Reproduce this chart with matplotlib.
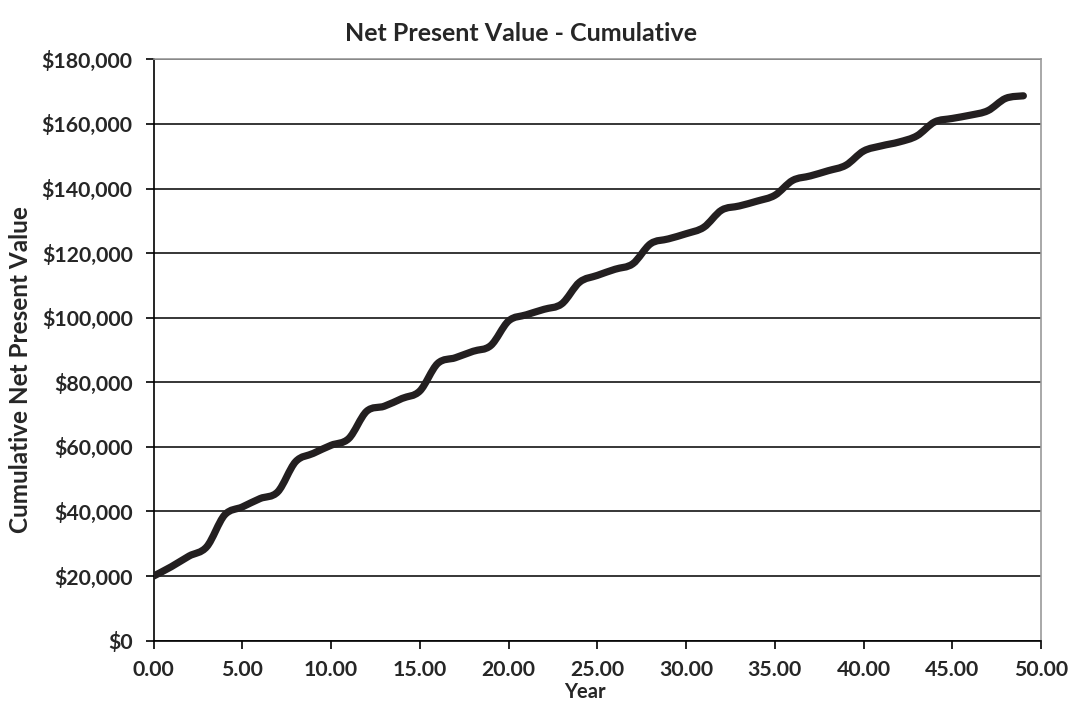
import matplotlib.pyplot as plt
import numpy as np
from matplotlib.path import Path
from matplotlib.patches import PathPatch
from matplotlib.ticker import FuncFormatter, MultipleLocator

# Data
years = list(range(0, 50))
cumulative_npv = [
    20000, 22900, 26200, 29100, 38900, 41400, 44000, 46100, 55400, 58000,
    60500, 62600, 71000, 72600, 75000, 77300, 85800, 87600, 89600, 91400,
    99000, 100900, 102600, 104300, 111000, 113100, 115000, 116700, 122900, 124400,
    126000, 128000, 133300, 134600, 136100, 137900, 142500, 143900, 145500, 147200,
    151600, 153200, 154400, 156300, 160600, 161700, 162700, 164100, 167900, 168700,
]

plt.rcParams['font.family'] = ['Lato', 'DejaVu Sans']
text_color = '#262626'

fig = plt.figure(figsize=(10.7, 7.07), dpi=100)
ax = fig.add_axes([0.1435, 0.0938, 0.8295, 0.8223])

# Excel-style smoothed line: cubic Bezier segments through every point
x = np.array(years, dtype=float)
y = np.array(cumulative_npv, dtype=float)
xp = np.concatenate([[x[0]], x, [x[-1]]])
yp = np.concatenate([[y[0]], y, [y[-1]]])
verts = [(x[0], y[0])]
codes = [Path.MOVETO]
for i in range(len(x) - 1):
    c1 = (x[i] + (xp[i + 2] - xp[i]) / 6, y[i] + (yp[i + 2] - yp[i]) / 6)
    c2 = (x[i + 1] - (xp[i + 3] - xp[i + 1]) / 6, y[i + 1] - (yp[i + 3] - yp[i + 1]) / 6)
    verts += [c1, c2, (x[i + 1], y[i + 1])]
    codes += [Path.CURVE4] * 3
ax.add_patch(PathPatch(Path(verts, codes), facecolor='none', edgecolor='#231f20',
                       linewidth=5.2, capstyle='round', joinstyle='round', zorder=3))

ax.set_xlim(0, 50)
ax.set_ylim(0, 180000)
ax.xaxis.set_major_locator(MultipleLocator(5))
ax.yaxis.set_major_locator(MultipleLocator(20000))
ax.xaxis.set_major_formatter(FuncFormatter(lambda v, p: f"{v:.2f}"))
ax.yaxis.set_major_formatter(FuncFormatter(lambda v, p: f"${v:,.0f}"))

ax.grid(True, axis='y', color='black', linewidth=1.1, zorder=1)
ax.set_axisbelow(True)
for side in ['left', 'bottom']:
    ax.spines[side].set_color('black')
    ax.spines[side].set_linewidth(1.2)
for side in ['top', 'right']:
    ax.spines[side].set_color('#999999')
    ax.spines[side].set_linewidth(1.2)

ax.tick_params(axis='both', direction='out', length=6, width=1.2, color='black',
               labelsize=15.3, labelcolor=text_color)
ax.tick_params(axis='y', pad=9)
ax.tick_params(axis='x', pad=8)
for lbl in ax.get_xticklabels() + ax.get_yticklabels():
    lbl.set_fontweight('bold')

fig.text(0.487, 0.953, 'Net Present Value - Cumulative', ha='center', va='center',
         fontsize=18, fontweight='bold', color=text_color)
fig.text(0.547, 0.021, 'Year', ha='center', va='center',
         fontsize=14.5, fontweight='bold', color=text_color)
fig.text(0.019, 0.477, 'Cumulative Net Present Value', ha='center', va='center',
         rotation=90, fontsize=17.5, fontweight='bold', color=text_color)

fig.savefig('out.png', dpi=100)
